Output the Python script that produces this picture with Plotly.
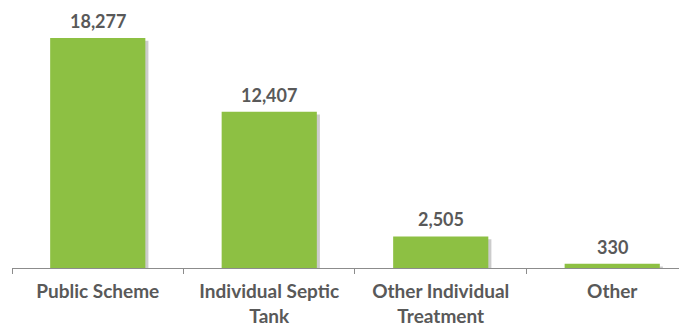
import plotly.graph_objects as go

categories = ["Public Scheme", "Individual Septic<br>Tank", "Other Individual<br>Treatment", "Other"]
values = [18277, 12407, 2505, 330]
labels = [f"{v:,}" for v in values]

BAR_COLOR = "#8DC043"
TEXT_COLOR = "#595959"
BAR_W = 0.555
SHADOW_DX = 0.018   # in category units
SHADOW_DY = 220     # in value units

fig = go.Figure()
# soft shadow behind each bar
fig.add_trace(
    go.Bar(
        x=categories, y=[v - SHADOW_DY for v in values], width=BAR_W,
        offset=-BAR_W / 2 + SHADOW_DX,
        marker=dict(color="rgba(0,0,0,0.2)", line=dict(width=0)),
        hoverinfo="skip", showlegend=False,
    )
)
fig.add_trace(
    go.Bar(
        x=categories, y=values, width=BAR_W, offset=-BAR_W / 2,
        marker=dict(color=BAR_COLOR, line=dict(width=0)),
        showlegend=False,
    )
)
for c, v, t in zip(categories, values, labels):
    fig.add_annotation(
        x=c, y=v, text=t, showarrow=False, yanchor="bottom", yshift=4,
        font=dict(family="Lato", size=18, color=TEXT_COLOR, weight="bold"),
    )
fig.update_layout(
    width=679, height=317,
    margin=dict(l=4, r=0, t=2, b=57, autoexpand=False),
    barmode="overlay",
    plot_bgcolor="white", paper_bgcolor="white",
    xaxis=dict(
        range=[-0.5, 3.436], showline=True, linecolor="#8c8c8c", linewidth=1,
        ticks="outside", tickson="boundaries", ticklen=5, tickcolor="#8c8c8c",
        tickfont=dict(family="Lato", size=19, color=TEXT_COLOR, weight="bold"),
        ticklabelstandoff=6,
        showgrid=False,
    ),
    yaxis=dict(range=[0, 20500], visible=False, showgrid=False),
)
fig.write_html("out.html")
